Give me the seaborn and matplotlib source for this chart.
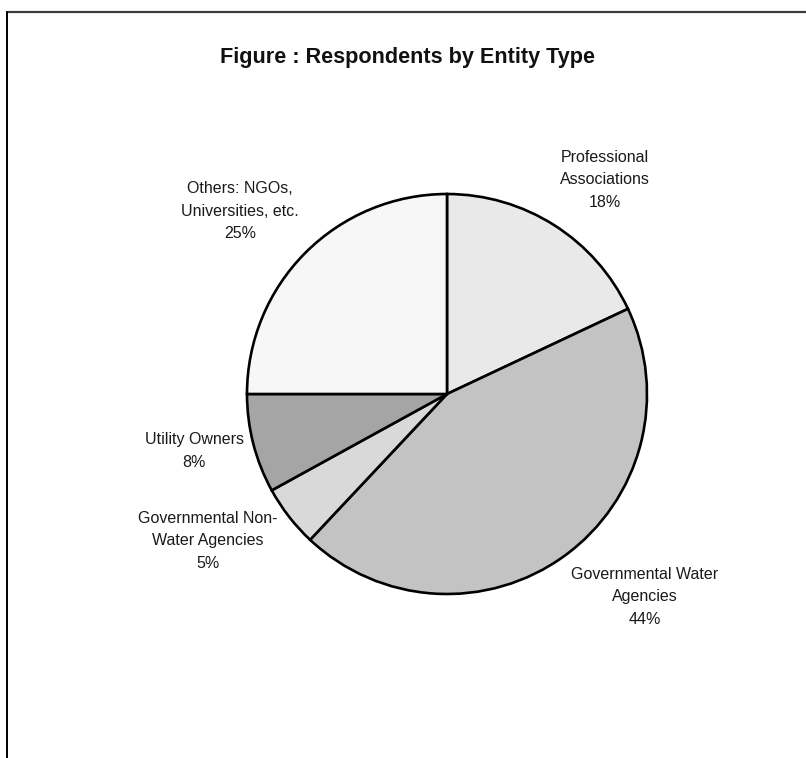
import matplotlib
matplotlib.use("Agg")
import matplotlib.pyplot as plt
from matplotlib.lines import Line2D
import seaborn as sns

# Survey breakdown by entity type (percent of respondents)
categories = [
    "Professional\nAssociations",
    "Governmental Water\nAgencies",
    "Governmental Non-\nWater Agencies",
    "Utility Owners",
    "Others: NGOs,\nUniversities, etc.",
]
shares = [18, 44, 5, 8, 25]
slice_colors = ["#e9e9e9", "#c3c3c3", "#d9d9d9", "#a5a5a5", "#f7f7f7"]

# Where each label block sits, in pie-radius units
label_pos = [(0.79, 1.07), (0.99, -1.015), (-1.195, -0.735), (-1.265, -0.285), (-1.035, 0.915)]

sns.set_theme(style="white")
plt.rcParams["font.family"] = ["Liberation Sans", "DejaVu Sans"]

fig = plt.figure(figsize=(8.06, 7.58), dpi=100)
fig.patch.set_facecolor("white")

# Pie centred at (447, 394) px with a 200 px radius
ax = fig.add_axes([247 / 806, (758 - 394 - 200) / 758, 400 / 806, 400 / 758])
ax.pie(
    shares,
    colors=slice_colors,
    startangle=90,
    counterclock=False,
    radius=1.0,
    wedgeprops=dict(edgecolor="black", linewidth=1.9),
)
ax.set_xlim(-1, 1)
ax.set_ylim(-1, 1)
ax.set_aspect("equal")
ax.axis("off")

for name, val, (x, y) in zip(categories, shares, label_pos):
    ax.text(x, y, f"{name}\n{val}%", ha="center", va="center",
            fontsize=11.5, color="#1a1a1a", linespacing=1.6, clip_on=False)

fig.text(408 / 806, 1 - 57 / 758, "Figure : Respondents by Entity Type",
         ha="center", va="center", fontsize=15.6, fontweight="bold", color="#111111")

# Chart-area frame: top and left edges
fig.add_artist(Line2D([7 / 806, 1.0], [1 - 12 / 758, 1 - 12 / 758],
                      transform=fig.transFigure, color="#3c3c3c", linewidth=1.6))
fig.add_artist(Line2D([7 / 806, 7 / 806], [1 - 12 / 758, 0.0],
                      transform=fig.transFigure, color="black", linewidth=1.4))

fig.savefig("out.png", dpi=100, facecolor="white")
